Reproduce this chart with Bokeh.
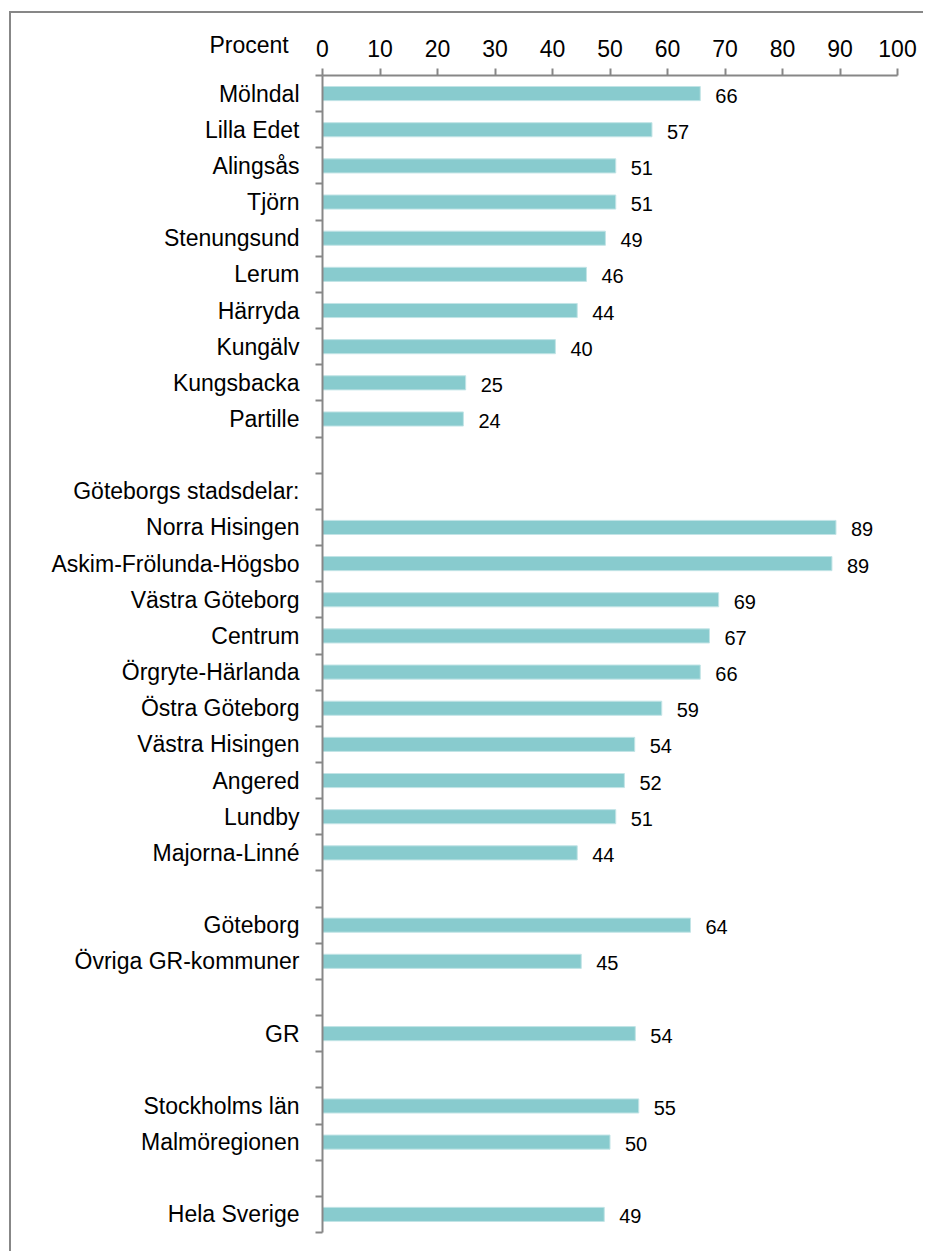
from bokeh.plotting import figure
from bokeh.models import Range1d, FixedTicker, LinearAxis, ColumnDataSource
from bokeh.core.properties import value
from bokeh.embed import file_html
from bokeh.resources import INLINE

categories = ["Mölndal", "Lilla Edet", "Alingsås", "Tjörn", "Stenungsund", "Lerum",
              "Härryda", "Kungälv", "Kungsbacka", "Partille", "",
              "Göteborgs stadsdelar:", "Norra Hisingen", "Askim-Frölunda-Högsbo",
              "Västra Göteborg", "Centrum", "Örgryte-Härlanda", "Östra Göteborg",
              "Västra Hisingen", "Angered", "Lundby", "Majorna-Linné", "",
              "Göteborg", "Övriga GR-kommuner", "", "GR", "",
              "Stockholms län", "Malmöregionen", "", "Hela Sverige"]
values = [65.7, 57.3, 51.0, 51.0, 49.2, 45.9, 44.3, 40.5, 24.9, 24.5, None,
          None, 89.3, 88.6, 68.9, 67.3, 65.7, 59.0, 54.3, 52.5, 51.0, 44.3, None,
          64.0, 45.0, None, 54.4, None, 55.0, 50.0, None, 49.0]
value_labels = ["66", "57", "51", "51", "49", "46", "44", "40", "25", "24", None,
                None, "89", "89", "69", "67", "66", "59", "54", "52", "51", "44", None,
                "64", "45", None, "54", None, "55", "50", None, "49"]
x_ticks = [0, 10, 20, 30, 40, 50, 60, 70, 80, 90, 100]
axis_title = "Procent"

FONT = "Liberation Sans"
GRAY = "#878787"
BAR = "#88CBCE"

n = len(categories)
ys, xs, labs = [], [], []
for i, (v, l) in enumerate(zip(values, value_labels)):
    if v is not None:
        ys.append(i + 0.5)
        xs.append(v)
        labs.append(l)
src = ColumnDataSource(dict(y=ys, x=xs, lab=labs))

p = figure(width=914, height=1240, output_backend="svg", toolbar_location=None,
           x_range=Range1d(0, 100), y_range=Range1d(n, 0),
           x_axis_location=None, y_axis_location=None,
           min_border_left=311, min_border_right=28, min_border_top=62,
           min_border_bottom=21, title=axis_title, title_location="above")
p.outline_line_color = None
p.xgrid.grid_line_color = None
p.ygrid.grid_line_color = None
p.styles = {"border-left": f"2px solid {GRAY}", "border-top": f"2px solid {GRAY}",
            "margin-left": "9px", "margin-top": "11px"}

p.title.align = "left"
p.title.offset = -113
p.title.vertical_align = "bottom"
p.title.standoff = -42
p.title.text_font = FONT
p.title.text_font_size = "23px"
p.title.text_font_style = "normal"
p.title.text_color = "#000000"

p.hbar(y="y", right="x", left=0, height=0.39, source=src,
       fill_color=BAR, line_color="#c2e4e6", line_width=1)
p.text(x="x", y="y", text="lab", source=src, x_offset=15, y_offset=2,
       text_baseline="middle", text_align="left",
       text_font=value(FONT), text_font_size="20px", text_color="#000000")

# top axis
xa = LinearAxis(ticker=FixedTicker(ticks=x_ticks, minor_ticks=[]))
xa.axis_line_color = GRAY
xa.axis_line_width = 2
xa.major_tick_line_color = GRAY
xa.major_tick_line_width = 2
xa.major_tick_in = 0
xa.major_tick_out = 7
xa.minor_tick_line_color = None
xa.major_label_text_font = FONT
xa.major_label_text_font_size = "23px"
xa.major_label_text_color = "#000000"
xa.major_label_standoff = 12
p.add_layout(xa, "above")

# left axis: labels at row centres, ticks at row boundaries
ya = LinearAxis(ticker=FixedTicker(ticks=[i + 0.5 for i in range(n)],
                                   minor_ticks=list(range(n + 1))))
ya.major_label_overrides = {i + 0.5: c for i, c in enumerate(categories)}
ya.axis_line_color = GRAY
ya.axis_line_width = 2
ya.major_tick_line_color = None
ya.major_tick_in = 0
ya.major_tick_out = 0
ya.minor_tick_line_color = GRAY
ya.minor_tick_line_width = 2
ya.minor_tick_in = 0
ya.minor_tick_out = 7
ya.major_label_text_font = FONT
ya.major_label_text_font_size = "23px"
ya.major_label_text_color = "#000000"
ya.major_label_standoff = 16
p.add_layout(ya, "left")

open("out.html", "w").write(file_html(p, INLINE))
